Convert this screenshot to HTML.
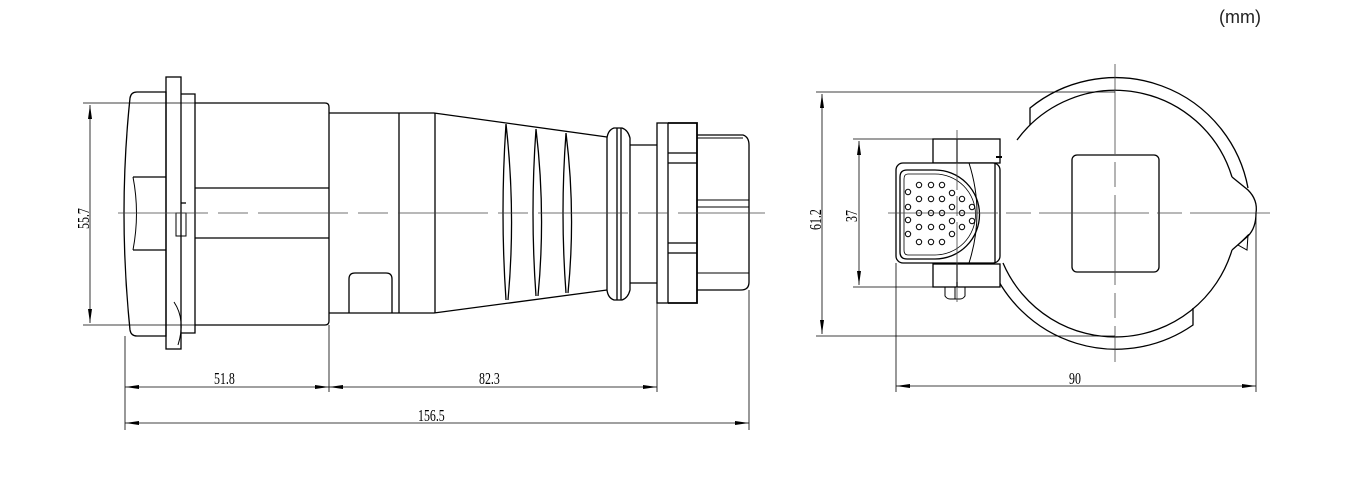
<!DOCTYPE html>
<html><head><meta charset="utf-8"><style>
html,body{margin:0;padding:0;background:#fff;width:1348px;height:500px;overflow:hidden}
svg{display:block}
.d{font-family:"Liberation Serif",serif;font-size:17px;fill:#000}
</style></head><body>
<svg width="1348" height="500" viewBox="0 0 1348 500" xmlns="http://www.w3.org/2000/svg">
<defs>
<marker id="a" viewBox="0 0 14 6" refX="14" refY="3" markerWidth="14" markerHeight="6" markerUnits="userSpaceOnUse" orient="auto-start-reverse"><path d="M0,1 L14,3 L0,5 Z" fill="#000"/></marker>
</defs>
<text x="1219" y="23" font-family="Liberation Sans,sans-serif" font-size="18" fill="#222">(mm)</text>

<g fill="none" stroke="#000" stroke-width="1.3">
<path d="M137,92 L166,92 L166,336 L137,336 Q131,336 130,330 Q118,213 130,98 Q131,92 137,92 Z"/>
<path d="M133,177 L166,177 M133,250 L166,250"/>
<path d="M133,177 Q140,213 133,250" stroke-width="1"/>
<rect x="166" y="77" width="15" height="272"/>
<path d="M174,302 Q186,320 178,345" stroke-width="1"/>
<path d="M181,94 L195,94 L195,333 L181,333"/>
<path d="M176,213 L186,213 L186,236 L176,236 Z" stroke-width="1"/>
<path d="M181,203 L186,203"/>
<path d="M195,103 L325,103 Q329,103 329,107 L329,321 Q329,325 325,325 L195,325"/>
<path d="M195,188 L329,188 M195,238 L329,238"/>
<path d="M329,113 L400,113 M329,313 L400,313"/>
<path d="M399,113 L399,313"/>
<path d="M349,313 L349,279 Q349,273 355,273 L386,273 Q392,273 392,279 L392,313"/>
<path d="M400,113 L434,113 L607,137 M400,313 L434,313 L607,290"/>
<path d="M435,113 L435,313"/>
<path d="M506,124 Q500,213 506,300 M506,124 Q516,213 508,300"/>
<path d="M536,129 Q530,213 536,296 M536,129 Q546,213 538,296"/>
<path d="M566,133 Q560,213 566,293 M566,133 Q576,213 568,293"/>
<path d="M614,128 L622,128 Q628,130 630,138 L630,290 Q628,298 622,300 L614,300 Q608,298 607,290 L607,138 Q608,130 614,128 Z"/>
<path d="M617,128 L617,300 M621,128 L621,300"/>
<path d="M630,145 L657,145 M630,283 L657,283"/>
<rect x="657" y="123" width="11" height="180"/>
<path d="M668,123 L697,123 L697,303 L668,303" stroke-width="1.8"/>
<path d="M668,153 L697,153 M668,163 L697,163 M668,243 L697,243 M668,253 L697,253"/>
<path d="M697,135 L743,135 Q749,137 749,145 L749,282 Q749,290 741,290 L697,290"/>
<path d="M697,138 L743,138 M697,200 L749,200 M697,207 L749,207 M697,273 L749,273" stroke-width="1"/>

<path d="M118,213 L765,213" stroke="#444" stroke-width="0.8" stroke-dasharray="90,10,30,10"/>

<g stroke-width="0.8">
<path d="M83,103 L195,103 M83,325 L195,325"/>
<path d="M90,105 L90,323" marker-start="url(#a)" marker-end="url(#a)"/>
<path d="M125,336 L125,430 M329,325 L329,392 M657,303 L657,392 M749,290 L749,430"/>
<path d="M125,387 L329,387" marker-start="url(#a)" marker-end="url(#a)"/>
<path d="M329,387 L657,387" marker-start="url(#a)" marker-end="url(#a)"/>
<path d="M125,423 L749,423" marker-start="url(#a)" marker-end="url(#a)"/>
</g>

<path d="M1030,125 L1030,108 A135,135 0 0 1 1248,188"/>
<path d="M1193,308 L1193,325 A135,135 0 0 1 990,263"/>
<path d="M1017,140 A122,122 0 0 1 1232,177"/>
<path d="M1232,250 A122,122 0 0 1 1003,263"/>
<path d="M1232,177 L1248,190 Q1258,200 1256,213 Q1256,228 1248,236 L1232,250"/>
<path d="M1238,245 L1248,235 L1247,250 Z" stroke-width="1"/>
<rect x="1072" y="155" width="87" height="117" rx="5"/>
<rect x="933" y="139" width="67" height="24" fill="#fff"/>
<rect x="933" y="264" width="67" height="23" fill="#fff"/>
<path d="M957,139 L957,163 M957,264 L957,287"/>
<path d="M996,157 L1002,157" stroke-width="2"/>
<rect x="896" y="163" width="104" height="100" rx="7" fill="#fff"/>
<path d="M995,163 L995,263"/>
<path d="M969,163 Q985,213 969,263" stroke-width="1"/>
<path d="M907,170 L935,170 A44.5,44.5 0 0 1 935,259 L907,259 Q900,259 900,252 L900,177 Q900,170 907,170 Z"/>
<path d="M908,174 L935,174 A40.5,40.5 0 0 1 935,255 L908,255 Q904,255 904,250 L904,179 Q904,174 908,174 Z" stroke-width="0.8"/>
<path d="M945,287 L945,296 Q947,299 950,299 L960,299 Q963,299 965,296 L965,287 M955,287 L955,299" stroke-width="1"/>
<g stroke-width="1">
<circle cx="908" cy="192" r="2.7"/><circle cx="908" cy="207" r="2.7"/><circle cx="908" cy="220" r="2.7"/><circle cx="908" cy="234" r="2.7"/>
<circle cx="919" cy="185" r="2.7"/><circle cx="919" cy="199" r="2.7"/><circle cx="919" cy="213" r="2.7"/><circle cx="919" cy="227" r="2.7"/><circle cx="919" cy="242" r="2.7"/>
<circle cx="931" cy="185" r="2.7"/><circle cx="931" cy="199" r="2.7"/><circle cx="931" cy="213" r="2.7"/><circle cx="931" cy="227" r="2.7"/><circle cx="931" cy="242" r="2.7"/>
<circle cx="942" cy="185" r="2.7"/><circle cx="942" cy="199" r="2.7"/><circle cx="942" cy="213" r="2.7"/><circle cx="942" cy="227" r="2.7"/><circle cx="942" cy="242" r="2.7"/>
<circle cx="952" cy="193" r="2.7"/><circle cx="952" cy="207" r="2.7"/><circle cx="952" cy="221" r="2.7"/><circle cx="952" cy="234" r="2.7"/>
<circle cx="962" cy="199" r="2.7"/><circle cx="962" cy="213" r="2.7"/><circle cx="962" cy="227" r="2.7"/>
<circle cx="972" cy="207" r="2.7"/><circle cx="972" cy="221" r="2.7"/>
</g>
<g stroke="#444" stroke-width="0.8">
<path d="M888,213 L1270,213" stroke-dasharray="110,8,25,8"/>
<path d="M1115,64 L1115,362" stroke-dasharray="90,8,25,8"/>
<path d="M957,130 L957,302" stroke-dasharray="60,6,20,6"/>
</g>
<g stroke-width="0.8">
<path d="M816,92 L1115,92 M816,336 L1115,336"/>
<path d="M822,94 L822,334" marker-start="url(#a)" marker-end="url(#a)"/>
<path d="M853,139 L933,139 M853,287 L933,287"/>
<path d="M859,141 L859,285" marker-start="url(#a)" marker-end="url(#a)"/>
<path d="M896,263 L896,392 M1256,213 L1256,392"/>
<path d="M896,386 L1256,386" marker-start="url(#a)" marker-end="url(#a)"/>
</g>
</g>

<text class="d" transform="translate(214,384) scale(0.7,1)">51.8</text>
<text class="d" transform="translate(479,384) scale(0.7,1)">82.3</text>
<text class="d" transform="translate(418,421) scale(0.7,1)">156.5</text>
<text class="d" transform="translate(1069,384) scale(0.7,1)">90</text>
<text class="d" transform="translate(89,229) rotate(-90) scale(0.7,1)">55.7</text>
<text class="d" transform="translate(821,230) rotate(-90) scale(0.7,1)">61.2</text>
<text class="d" transform="translate(857,222) rotate(-90) scale(0.7,1)">37</text>
</svg>
</body></html>
